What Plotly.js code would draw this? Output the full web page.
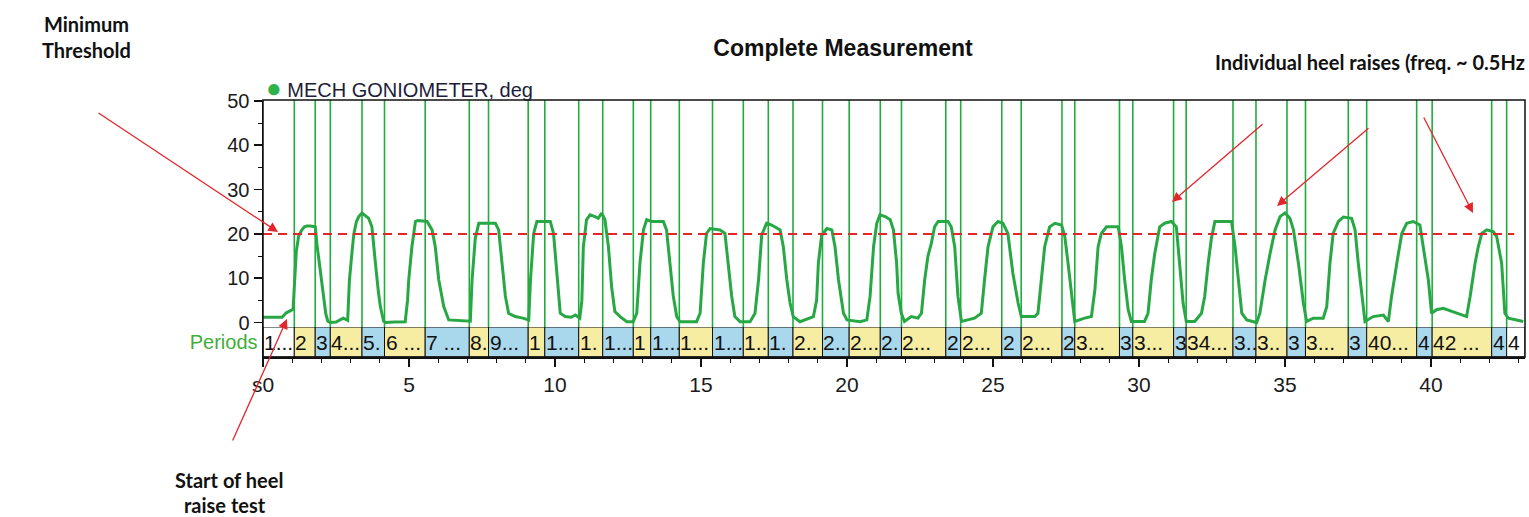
<!DOCTYPE html>
<html>
<head>
<meta charset="utf-8">
<script src="https://cdn.plot.ly/plotly-3.0.1.min.js"></script>
<style>html,body{margin:0;padding:0;background:#fff;}#chart{width:1529px;height:517px;}</style>
</head>
<body>
<div id="chart"></div>
<script>
// ---------------- data ----------------
const timeS = [
  0,0.3,0.65,0.8,0.92,1.03,1.08,1.14,1.22,1.32,1.42,1.5,1.62,1.79,1.85,1.95,2.05,2.15,2.22,2.3,2.5,2.65,2.75,2.9,
  2.96,3.05,3.11,3.2,3.28,3.39,3.5,3.62,3.73,3.8,3.85,3.95,4.02,4.13,4.19,4.5,4.87,
  4.95,4.99,5.10,5.22,5.3,5.62,5.79,5.9,6.02,6.19,6.36,6.7,7.10,
  7.16,7.27,7.39,7.96,8.07,8.19,8.30,8.41,8.64,8.9,9.10,
  9.16,9.27,9.38,9.84,9.95,10.07,10.18,10.35,10.55,10.70,10.85,
  10.92,10.97,11.08,11.2,11.37,11.48,11.6,11.71,11.83,11.94,12.05,12.23,12.46,12.68,12.8,
  12.91,13.03,13.14,13.31,13.71,13.82,13.94,14.05,14.17,14.28,14.85,14.97,
  15.08,15.19,15.31,15.65,15.82,15.94,16.05,16.16,16.34,16.68,16.85,
  16.97,17.08,17.25,17.42,17.71,17.82,17.94,18.05,18.16,18.39,18.85,18.96,
  19.02,19.13,19.31,19.48,19.59,19.71,19.88,20.0,20.45,20.68,20.79,
  20.91,21.02,21.13,21.31,21.48,21.59,21.70,21.75,21.86,21.97,22.2,22.43,22.55,
  22.66,22.77,22.89,23.0,23.12,23.46,23.57,23.69,23.80,23.92,24.37,24.60,
  24.71,24.83,25.0,25.17,25.34,25.51,25.68,25.86,25.97,26.43,26.54,
  26.66,26.77,26.94,27.12,27.35,27.46,27.57,27.69,27.80,28.14,28.37,28.49,
  28.60,28.71,28.89,29.29,29.40,29.51,29.63,29.74,30.19,30.31,
  30.42,30.54,30.71,30.88,31.11,31.28,31.39,31.51,31.62,31.91,32.14,32.25,
  32.37,32.48,32.60,33.17,33.29,33.40,33.52,33.69,34.03,34.14,
  34.32,34.49,34.66,34.83,35.0,35.17,35.29,35.46,35.63,35.74,35.97,36.31,36.43,
  36.54,36.65,36.83,37.0,37.28,37.40,37.51,37.63,37.74,38.02,38.37,38.54,38.65,
  38.83,39.0,39.17,39.39,39.62,39.74,39.91,40.02,40.19,40.42,40.88,41.22,41.34,
  41.51,41.62,41.74,41.91,42.14,42.25,42.42,42.53,42.65,43.16
];
const angleDeg = [
  1.2,1.2,1.2,2.2,2.6,3.0,9,16,19.5,20.8,21.6,21.8,21.8,21.6,17.5,12,7,2,0.3,0,0.1,0.6,1.0,0.5,
  9.6,16,20,22.8,23.9,24.7,24.2,23.5,21.6,16,13.4,7,3.6,0.3,0,0.1,0.2,
  5,9.6,17.1,22.8,23,22.8,20.9,17.1,9.6,3.6,0.6,0.4,0.3,
  9.6,19,22.4,22.4,20.9,13.4,6,2.1,1.35,1.0,0.6,
  9.6,20.1,22.8,22.8,20.1,9.6,2.1,1.35,1.2,1.7,1.0,
  5,17,23.2,24.3,23.9,23.5,24.7,23.2,17.1,8,2.5,1.35,0.2,0.2,2.1,
  13.4,20.9,23.2,22.8,22.8,20.9,13.4,6,1.35,0.2,0.2,2.1,
  13.4,20.1,21.2,20.9,20.1,13.4,6,1.35,0.2,0.2,2.1,
  9.6,19.8,22.4,22.0,20.9,17.1,9.6,4.4,1.35,0.2,1.35,5,
  13.4,19.6,21.2,20.9,17.1,9.6,2.1,0.6,0.2,0.6,5.9,
  17.1,22.4,24.3,23.9,23.2,20.9,13.4,6.6,2.1,0.25,1.35,1.0,2.1,
  9.6,14.9,17.9,21.6,22.8,22.8,21.6,17.1,5.9,0.25,1.0,2.1,
  9.6,17.1,21.6,22.8,22.4,20.1,11.2,4.4,1.35,1.35,2.1,
  9.6,17.1,21.6,22.4,22.0,19.4,13.4,5.9,0.25,1.0,1.35,7.4,
  17.1,20.1,21.6,21.6,17.1,9.6,2.9,0.25,0.25,2.1,
  9.6,15.6,21.6,22.4,22.8,21.6,13.4,4.4,0.25,0.25,2.1,5.9,
  13.4,19,22.8,22.8,17.1,9.6,2.1,0.6,0,2.1,
  9.6,15.6,20.9,23.9,24.7,23.5,20.9,13.4,4.4,0.25,1.0,1.0,3.6,
  13.4,20.1,22.8,23.8,23.5,20.9,13.4,5.9,0.25,1.35,1.7,0.25,5.9,
  13.4,20.1,22.4,22.8,22.0,17.1,9.6,2.1,2.9,3.2,2.1,1.35,5.9,
  13.4,17.1,20.1,20.9,20.5,19.4,13.4,2.1,1.0,0.25
];
const thresholdDeg = 20;
const thresholdSpanS = [0, 42.85];
const periodBounds = [
  0,1.072,1.788,2.305,3.390,4.161,5.555,7.065,7.723,9.082,9.651,10.812,11.634,12.682,13.277,
  14.257,15.394,16.449,17.305,18.151,19.161,20.075,21.140,21.866,23.384,23.894,25.301,25.966,
  27.363,27.801,29.332,29.788,31.185,31.616,33.219,34.007,35.068,35.702,37.168,37.798,39.510,
  40.041,42.079,42.592,43.22
];
const periodLabels = [
  "1...","2","3","4...","5.","6 ...","7 ...","8.","9...","1","1...","1.","1...","1","1...",
  "1...","1...","1..","1.","2..","2..","2...","2.","2...","2","2...","2","2...","2","3...",
  "3","3...","3","34...","3..","3..","3","3...","3","40...","4","42 ...","4","4"
];
const titleText = "Complete Measurement";
const seriesName = "MECH GONIOMETER, deg";
const bandName = "Periods";

// ---------------- layout helpers ----------------
const W = 1529, H = 517, ML = 263, MR = 4, MT = 100, MB = 160;
const PW = W - ML - MR, PH = H - MT - MB;
const px = X => (X - ML) / PW;
const py = Y => (H - MB - Y) / PH;
const bandFrac = 30 / PH;
const FONT = "Liberation Sans, Arial, sans-serif";
const NOTE = "Lato, 'Open Sans', sans-serif";
const GREEN = "#27a844";
const RED = "#e3262b";

const traces = [
  {x: timeS, y: angleDeg, type: "scatter", mode: "lines", xaxis: "x", yaxis: "y",
   line: {color: GREEN, width: 3}, showlegend: false, hoverinfo: "skip"},
  {x: thresholdSpanS, y: thresholdSpanS.map(() => thresholdDeg), type: "scatter", mode: "lines",
   xaxis: "x", yaxis: "y", line: {color: RED, width: 2, dash: "9px,6px"}, showlegend: false, hoverinfo: "skip"}
];

const shapes = [];
const annotations = [];
for (let i = 0; i < periodLabels.length; i++) {
  let fill = (i % 2 === 1) ? "#f6eca2" : "#a9d7ec";
  if (i === 0 || i === periodLabels.length - 1) fill = "#ffffff";
  shapes.push({type: "rect", xref: "x", yref: "y2", x0: periodBounds[i], x1: periodBounds[i + 1],
    y0: 0, y1: 1, fillcolor: fill, line: {color: "#111", width: 1}, layer: "above"});
  annotations.push({xref: "x", yref: "y2", x: periodBounds[i], y: 0.5, xanchor: "left", yanchor: "middle",
    xshift: -1, text: periodLabels[i], showarrow: false, font: {family: FONT, size: 21, color: "#111"}});
}
for (let i = 1; i < periodBounds.length - 1; i++) {
  shapes.push({type: "line", xref: "x", yref: "y domain", x0: periodBounds[i], x1: periodBounds[i],
    y0: 0, y1: 1, line: {color: "#1fae3c", width: 1.6}, layer: "below"});
}
// plot frame
shapes.push({type: "rect", xref: "paper", yref: "paper", x0: 0, x1: 1, y0: 0, y1: 1,
  line: {color: "#111", width: 1.5}, fillcolor: "rgba(0,0,0,0)", layer: "above"});

// legend (dot + series name)
annotations.push({xref: "paper", yref: "paper", x: px(264), y: py(88), xanchor: "left", yanchor: "middle",
  showarrow: false, text: '<span style="color:#2db34a;font-size:26px">●</span> ' + seriesName,
  font: {family: FONT, size: 20, color: "#1d1d3a"}});

// callout texts
const noteFont = {family: NOTE, size: 20, color: "#111", weight: 700};
annotations.push({xref: "paper", yref: "paper", x: px(86), y: py(24), xanchor: "center", yanchor: "middle",
  showarrow: false, text: "Minimum", font: noteFont});
annotations.push({xref: "paper", yref: "paper", x: px(86), y: py(50), xanchor: "center", yanchor: "middle",
  showarrow: false, text: "Threshold", font: noteFont});
annotations.push({xref: "paper", yref: "paper", x: px(229), y: py(480), xanchor: "center", yanchor: "middle",
  showarrow: false, text: "Start of heel", font: noteFont});
annotations.push({xref: "paper", yref: "paper", x: px(225), y: py(505), xanchor: "center", yanchor: "middle",
  showarrow: false, text: "raise test", font: noteFont});
annotations.push({xref: "paper", yref: "paper", x: px(1527), y: py(62), xanchor: "right", yanchor: "middle",
  showarrow: false, text: "Individual heel raises (freq. ~ 0.5Hz", font: noteFont});

// red arrows: [headX, headY, tailX, tailY] in page pixels
const arrows = [
  [278, 232, 97, 112],
  [287, 319, 232, 442],
  [1172, 202, 1264, 123],
  [1277, 206, 1370, 127],
  [1473, 213, 1423, 116]
];
arrows.forEach(a => annotations.push({xref: "paper", yref: "paper", x: px(a[0]), y: py(a[1]),
  ax: a[2] - a[0], ay: a[3] - a[1], text: "", showarrow: true, arrowhead: 2, arrowsize: 1.5,
  arrowwidth: 1.3, arrowcolor: RED}));

const layout = {
  width: W, height: H,
  margin: {l: ML, r: MR, t: MT, b: MB, pad: 0},
  paper_bgcolor: "#ffffff", plot_bgcolor: "#ffffff",
  font: {family: FONT, color: "#111"},
  showlegend: false,
  title: {text: "<b>" + titleText + "</b>", xref: "container", yref: "container",
    x: 843 / W, y: 1 - 48 / H, xanchor: "center", yanchor: "middle",
    font: {family: FONT, size: 23, color: "#111"}},
  xaxis: {domain: [0, 1], anchor: "y2", range: [0, 43.22], tickmode: "linear", tick0: 0, dtick: 5,
    labelalias: {"0": "s0"},
    ticks: "outside", ticklen: 8, tickwidth: 1.5, tickcolor: "#111",
    minor: {tickmode: "linear", tick0: 0, dtick: 1, ticks: "outside", ticklen: 4, tickwidth: 1, tickcolor: "#111"},
    showline: true, linecolor: "#111", linewidth: 1.5, showgrid: false, zeroline: false,
    tickfont: {family: FONT, size: 21, color: "#1a1a1a"}, ticklabelstandoff: 0},
  yaxis: {domain: [bandFrac, 1], anchor: "x", range: [-1, 50.2], tickmode: "linear", tick0: 0, dtick: 10,
    ticks: "outside", ticklen: 8, tickwidth: 1.5, tickcolor: "#111",
    minor: {tickmode: "linear", tick0: 0, dtick: 5, ticks: "outside", ticklen: 4, tickwidth: 1, tickcolor: "#111"},
    showline: true, linecolor: "#111", linewidth: 1.5, showgrid: false, zeroline: false,
    tickfont: {family: FONT, size: 20, color: "#1a1a1a"}},
  yaxis2: {domain: [0, bandFrac], anchor: "x", range: [0, 1], tickmode: "array", tickvals: [0.5],
    ticktext: [bandName], ticks: "", showline: true, linecolor: "#111", linewidth: 1.5,
    showgrid: false, zeroline: false, tickfont: {family: FONT, size: 20, color: "#3fae3a"}},
  shapes: shapes,
  annotations: annotations
};

Plotly.newPlot("chart", traces, layout, {staticPlot: true, displayModeBar: false});
</script>
</body>
</html>
